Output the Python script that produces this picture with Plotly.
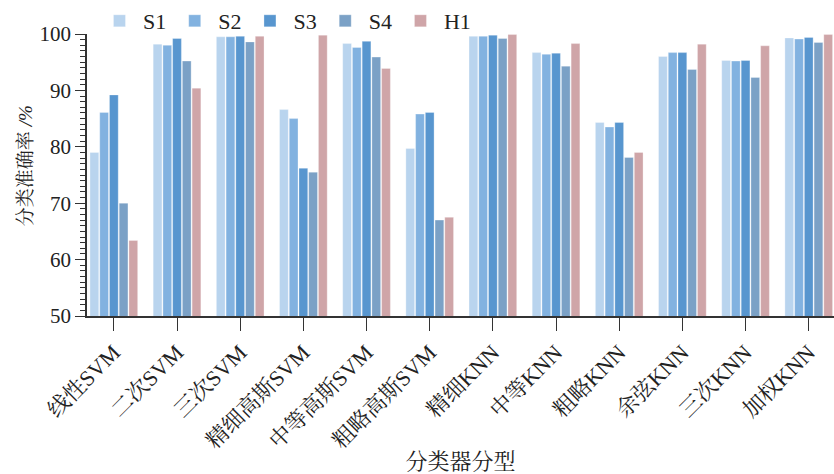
import plotly.graph_objects as go

categories = ["线性SVM", "二次SVM", "三次SVM", "精细高斯SVM", "中等高斯SVM", "粗略高斯SVM",
              "精细KNN", "中等KNN", "粗略KNN", "余弦KNN", "三次KNN", "加权KNN"]
S1 = [79.0, 98.2, 99.5, 86.6, 98.3, 79.7, 99.6, 96.7, 84.3, 96.0, 95.3, 99.3]
S2 = [86.1, 98.0, 99.5, 85.0, 97.6, 85.8, 99.6, 96.4, 83.5, 96.7, 95.2, 99.1]
S3 = [89.2, 99.2, 99.6, 76.2, 98.7, 86.1, 99.8, 96.6, 84.3, 96.7, 95.3, 99.4]
S4 = [70.0, 95.2, 98.6, 75.5, 95.9, 67.0, 99.2, 94.3, 78.1, 93.7, 92.3, 98.5]
H1 = [63.4, 90.4, 99.6, 99.8, 93.9, 67.5, 99.9, 98.3, 79.0, 98.2, 97.9, 99.9]

series = [("S1", S1, "#B9D4EE"), ("S2", S2, "#82B2E0"), ("S3", S3, "#5896CF"),
          ("S4", S4, "#7BA1C6"), ("H1", H1, "#CFA5A8")]

FONT = "Liberation Serif, Times New Roman, Noto Serif CJK SC, Noto Sans CJK SC, serif"

fig = go.Figure()
for name, vals, col in series:
    fig.add_trace(go.Bar(x=list(range(len(categories))), y=vals, name=name,
                         marker=dict(color=col, line=dict(color="rgba(255,255,255,0.6)", width=0.5))))

fig.update_layout(
    width=834, height=474,
    margin=dict(l=87, r=0, t=34, b=158, autoexpand=False),
    plot_bgcolor="white", paper_bgcolor="white",
    barmode="group", bargap=0.23, bargroupgap=0.1,
    font=dict(family=FONT, size=20, color="#222"),
    showlegend=True,
    legend=dict(orientation="h", x=0.012, y=1.0, xref="paper", yref="container",
                xanchor="left", yanchor="top",
                font=dict(family=FONT, size=22, color="#222"),
                itemwidth=37, tracegroupgap=0, bgcolor="rgba(0,0,0,0)"),
    xaxis=dict(
        tickmode="array", tickvals=list(range(len(categories))), ticktext=categories,
        range=[-0.425, 11.4], tickangle=-45, automargin=False,
        showline=True, linecolor="#333", linewidth=1.5,
        ticks="outside", ticklen=13, tickwidth=1.2, tickcolor="#333",
        showgrid=False, zeroline=False,
        tickfont=dict(family=FONT, size=22, color="#222"),
        title=dict(text="分类器分型", font=dict(family=FONT, size=22, color="#222"), standoff=4),
    ),
    yaxis=dict(
        range=[50, 100], dtick=10, tick0=50, automargin=False,
        showline=True, linecolor="#333", linewidth=1.5,
        ticks="outside", ticklen=10, tickwidth=1.2, tickcolor="#333",
        minor=dict(dtick=1, ticks="outside", ticklen=5, tickwidth=1, tickcolor="#333", showgrid=False),
        showgrid=False, zeroline=False,
        tickfont=dict(family=FONT, size=21, color="#222"),
    ),
    annotations=[dict(text="分类准确率 <i>/%</i>", textangle=-90, xref="paper", yref="paper",
                      x=-0.083, y=0.535, xanchor="center", yanchor="middle", showarrow=False,
                      font=dict(family=FONT, size=19, color="#222"))],
)

fig.write_html("out.html", config={"displayModeBar": False},
               post_script="document.body.style.margin='0';document.body.style.overflow='hidden';")
